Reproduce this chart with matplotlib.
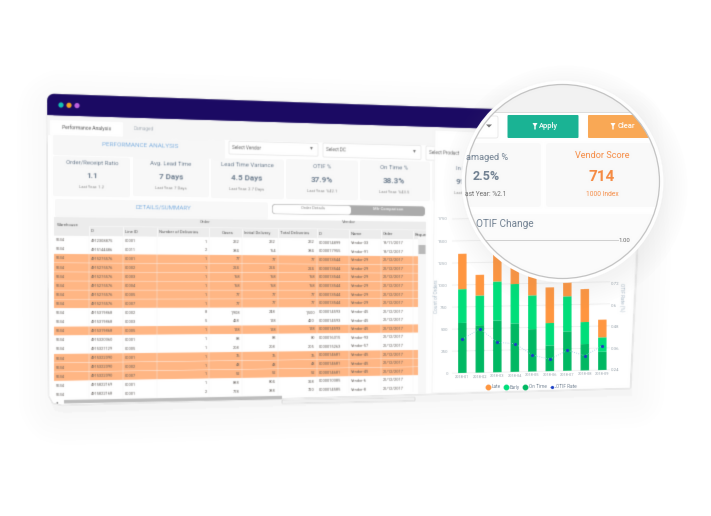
import numpy as np
import matplotlib
matplotlib.use("Agg")
import matplotlib.pyplot as plt
from matplotlib.lines import Line2D
from matplotlib.patches import Circle, Polygon, Rectangle, FancyBboxPatch
from matplotlib.transforms import Affine2D

plt.rcParams['font.family'] = ['Roboto', 'DejaVu Sans']

# chart values
months = ['2018-01', '2018-02', '2018-03', '2018-04', '2018-05', '2018-06', '2018-07', '2018-08', '2018-09']
on_time = [568, 538, 587, 550, 481, 292, 447, 299, 208]
early = [383, 337, 443, 447, 383, 254, 398, 250, 163]
late = [402, 235, 340, 300, 260, 405, 155, 375, 201]
otif_rate = [0.409, 0.466, 0.388, 0.379, 0.314, 0.288, 0.336, 0.304, 0.357]
count_ticks = [0, 250, 500, 750, 1000, 1250, 1500, 1750]
rate_ticks = [0.24, 0.36, 0.48, 0.6, 0.72]

# kpi cards
card_titles = ['Order/Receipt Ratio', 'Avg. Lead Time', 'Lead Time Variance', 'OTIF %', 'On Time %', 'In Full %']
card_values = ['1.1', '7 Days', '4.5 Days', '37.9%', '38.3%', '91.4%']
card_last = ['Last Year: 1.2', 'Last Year: 7 Days', 'Last Year: 2.7 Days', 'Last Year: %42.1', 'Last Year: %43.5', 'Last Year: %91']

# table
headers = ['ID', 'Line ID', 'Number of Deliveries', 'Cases', 'Initial Delivery', 'Total Deliveries', 'ID', 'Name', 'Order', 'Reque']
order_ids = ['4912308875', '4915144486', '4915275576', '4915275576', '4915275576', '4915275576', '4915275576', '4915275576',
             '4915319868', '4915319868', '4915319868', '4915320360', '4915321129', '4915322090', '4915322090', '4915322090',
             '4915822169', '4915822168']
line_ids = ['00001', '00011', '00001', '00002', '00003', '00004', '00005', '00007', '00002', '00003', '00005', '00001',
            '00005', '00001', '00002', '00007', '00001', '00001']
deliveries = [1, 2, 1, 1, 1, 1, 1, 1, 8, 5, 1, 1, 1, 1, 1, 1, 1, 2]
cases = ['252', '384', '77', '224', '168', '168', '77', '77', '1,908', '428', '128', '88', '208', '76', '43', '52', '888', '778']
initial = ['252', '164', '77', '224', '168', '168', '77', '77', '248', '128', '128', '88', '208', '76', '43', '52', '804', '388']
total = ['252', '384', '77', '224', '168', '168', '77', '77', '1,500', '420', '128', '80', '205', '76', '43', '52', '328', '720']
vendor_ids = ['0000014899', '0000017955', '0000013544', '0000013544', '0000013544', '0000013544', '0000013544', '0000013544',
              '0000014593', '0000014593', '0000014593', '0000016315', '0000015263', '0000014681', '0000014681', '0000014681',
              '0000010385', '0000014585']
vendor_names = ['Vendor-33', 'Vendor-91', 'Vendor-29', 'Vendor-29', 'Vendor-29', 'Vendor-29', 'Vendor-29', 'Vendor-29',
                'Vendor-45', 'Vendor-45', 'Vendor-45', 'Vendor-93', 'Vendor-57', 'Vendor-45', 'Vendor-45', 'Vendor-45',
                'Vendor-6', 'Vendor-8']
order_dates = ['19/11/2017', '19/12/2017'] + ['21/12/2017'] * 16
flagged = [2, 3, 4, 5, 6, 7, 10, 13, 14, 15]

ORANGE = '#ff9640'
GREEN = '#00de7a'
DARK_GREEN = '#00b862'
BLUE_TXT = '#7fb0e0'
GREY_TXT = '#6f7f90'


# the reference is a soft screenshot, so blur each layer a little
def soft(sigma):
    n = int(np.ceil(sigma * 3))
    k = np.exp(-0.5 * (np.arange(-n, n + 1) / sigma) ** 2)
    k = k / k.sum()

    def f(im, dpi):
        im = np.pad(im, ((n, n), (n, n), (0, 0)))
        im = np.apply_along_axis(lambda m: np.convolve(m, k, mode='same'), 0, im)
        im = np.apply_along_axis(lambda m: np.convolve(m, k, mode='same'), 1, im)
        return im, -n, -n
    return f


fig = plt.figure(figsize=(7.11, 5.16), dpi=100)
bg = fig.add_axes([0, 0, 1, 1], zorder=1)
bg.set_xlim(0, 711)
bg.set_ylim(516, 0)
bg.axis('off')
bg.set_agg_filter(soft(0.55))


# the page is tilted: rows run down to the right at the top, up at the bottom
def top(x):
    return 93.5 + 0.0345 * (x - 47)


def bot(x):
    return 405 - 0.02 * (x - 50)


def T(x, y):
    return (y - top(x)) / (bot(x) - top(x))


def Y(x, t):
    return top(x) + t * (bot(x) - top(x))


def rot(t):
    return -np.degrees(np.arctan(0.0345 + t * (-0.02 - 0.0345)))


def box(x0, y0, x1, y1, color, r=0, z=2, ec='none', lw=0):
    if r > 0:
        a = np.linspace(0, np.pi / 2, 6)
        pts = []
        for cx, cy, start in [(x1 - r, y0 + r, -np.pi / 2), (x1 - r, y1 - r, 0), (x0 + r, y1 - r, np.pi / 2), (x0 + r, y0 + r, np.pi)]:
            pts += [(cx + r * np.cos(start + k), cy + r * np.sin(start + k)) for k in a]
    else:
        pts = [(x0, y0), (x1, y0), (x1, y1), (x0, y1)]
    pts = [(x, Y(x, T(x0, y))) for x, y in pts]
    bg.add_patch(Polygon(pts, closed=True, fc=color, ec=ec, lw=lw, zorder=z))


def label(x, y, s, size=4, color='#666666', weight='normal', ha='center', z=5, **kw):
    bg.text(x, y, s, fontsize=size, color=color, fontweight=weight, ha=ha, va='center',
            rotation=rot(T(x, y)), rotation_mode='anchor', zorder=z, **kw)


# window with soft shadow
window = [(47, 104), (49, 98), (56, 94), (628, 113.5), (637, 250), (630, 388), (62, 405), (53, 403), (49, 396)]
shifted = [(x + 2, y + 8) for x, y in window]
for lw in np.arange(46, 2, -4):
    bg.add_patch(Polygon(shifted, closed=True, fc='#888888', ec='#888888', lw=lw, alpha=0.007, joinstyle='round', zorder=1))
bg.add_patch(Polygon(window, closed=True, fc='white', ec='#eeeeee', lw=0.4, zorder=1.5))

# title bar and tabs
box(47, 93.5, 625, 115, '#1b0a63', r=7, z=2)
box(47, 106, 625, 115, '#1b0a63', z=2)
for cx, cy, c in [(61, 105, '#14c4b4'), (69, 105.3, '#f5a623'), (77, 105.6, '#c060e0')]:
    bg.add_patch(Circle((cx, cy), 2.6, fc=c, ec='none', zorder=3))
box(47, 115, 625, 135, '#f6f6f6', z=1.8)
box(50, 120, 123, 135, 'white', r=1, z=2)
label(87, 128, 'Performance Analysis', size=3.6, color='#555555')
label(144, 129, 'Damaged', size=3.4, color='#aab2ba')

# filter row
box(53, 135, 225, 155, '#f7f7f7', r=2)
label(140, 145, 'PERFORMANCE ANALYSIS', size=4.6, color=BLUE_TXT)
for x0, y0, x1, y1, s in [(229, 141, 318, 154, 'Select Vendor'), (323, 143, 421, 157, 'Select DC'), (426, 146, 500, 160, 'Select Product')]:
    box(x0, y0, x1, y1, 'white', r=1, ec='#e3e3e3', lw=0.5)
    label(x0 + 3, (y0 + y1) / 2, s, size=3.3, ha='left', color='#666666')
    label(x1 - 7, (y0 + y1) / 2 + 0.3, '▾', size=4, color='#777777', family='DejaVu Sans')

# kpi cards
card_x0 = [53, 133, 211, 286, 360, 432]
card_x1 = [130, 209, 284, 358, 430, 505]
card_top = [156, 156, 158, 159, 160, 161]
centers = [92, 171, 247, 322, 394, 467]
for i in range(len(card_titles)):
    box(card_x0[i], card_top[i], card_x1[i], card_top[i] + 40, '#f8f8f8', r=2)
    dy = [0, 1, 2, 4, 5, 6][i]
    label(centers[i], 163 + dy, card_titles[i], size=4.3, color=GREY_TXT)
    label(centers[i], 176 + dy, card_values[i], size=5.8, color=GREY_TXT, weight='bold')
    label(centers[i], 187 + dy, card_last[i], size=3.0, color='#8a8a8a')

# details band
box(55, 199, 268, 217, '#f8f8f8', r=2)
label(163, 207, 'DETAILS/SUMMARY', size=4.4, color=BLUE_TXT)
box(272, 204, 425, 214, '#ababab', r=3)
box(272.6, 204.6, 351, 213.6, 'white', r=3)
label(313, 208.5, 'Order Details', size=3, color='#8a8a8a')
label(388, 209.5, 'Mfr Comparison', size=3, color='#eeeeee', weight='bold')

# table
col_x = [54, 89, 123, 157, 209, 242, 278, 317, 349, 381, 413, 418]
row_h = 9.1
row_top = 235.7
box(54, 217, 426, 236, '#ececec', z=2)
box(89, 226, 426, 226.5, 'white', z=2.5)
for x in col_x[1:-1]:
    bg.plot([x, x], [Y(x, T(54, 226.5)), Y(x, T(54, row_top))], color='white', lw=0.5, zorder=3)
label(57, 225, 'Warehouse', size=3.2, ha='left', color='#555555')
label(205, 222, 'Order', size=3.2, color='#666666')
label(349, 222, 'Vendor', size=3.2, color='#666666')
for i, h in enumerate(headers):
    x = col_x[i + 1] + 2 if i not in (3,) else 222
    label(x, Y(x, T(54, 231)), h, size=3.1, ha='left', color='#555555')

for i in range(len(order_ids)):
    y0 = row_top + i * row_h
    c = '#ffb684' if i in flagged else 'white'
    box(54, y0, 418, y0 + row_h - 0.4, c, z=2)
    cy = y0 + row_h / 2
    row_text = ['5534', order_ids[i], line_ids[i], str(deliveries[i]), cases[i], initial[i], total[i],
                vendor_ids[i], vendor_names[i], order_dates[i]]
    for j, s in enumerate(row_text):
        right = j in (3, 4, 5, 6)
        x = col_x[j + 1] - 2 if right else col_x[j] + 2
        label(x, Y(x, T(54, cy)), s, size=2.9, ha='right' if right else 'left', color='#5f5a56')

for x in col_x[1:-1]:
    bg.plot([x, x], [Y(x, T(54, row_top)), Y(x, T(54, 399))], color='#f4f4f4', lw=0.3, zorder=3)

# scrollbars
box(418, 237, 426, 394, '#f7f7f7', z=3)
box(418.5, 245, 425.5, 254, '#b9b9b9', z=3.5)
box(64, 400, 282, 403.5, '#bcbcbc', z=3)
box(282, 400, 415, 403.5, '#f0f0f0', z=3)
label(57, 402, '◂', size=3, color='#666666', family='DejaVu Sans')

# chart panel
bg.add_patch(Polygon([(435, 130), (636, 140), (636, 250), (630, 388), (432, 393)], closed=True, fc='white', ec='#f2f2f2', lw=0.5, zorder=2))
bg.text(436, 296, 'Count of Orders', fontsize=3.4, color='#a6b6c4', rotation=90, ha='center', va='center', zorder=5)
bg.text(622, 297, 'OTIF Rate (%)', fontsize=3.4, color='#a6b6c4', rotation=270, ha='center', va='center', zorder=5)

# stacked bars, axes placed in pixels then sheared to follow the page
ax_left, ax_right, ax_top, ax_base = 452, 610, 219, 373.2
ax = fig.add_axes([ax_left / 711, 1 - ax_base / 516, (ax_right - ax_left) / 711, (ax_base - ax_top) / 516], zorder=2)
ax.patch.set_alpha(0)
ax.set_agg_filter(soft(0.45))
x_pos = np.arange(len(months))
shear = Affine2D.from_values(1, 0.021, 0, 1, 0, -0.021 * ax_left)
tr = ax.transData + shear
ax.set_xlim(-0.59, 8.44)
ax.set_ylim(0, 1750)
ax.hlines(count_ticks, -0.59, 8.44, color='#ececec', lw=0.6, transform=tr, zorder=1, clip_on=False)
ax.bar(x_pos, on_time, width=0.49, color=DARK_GREEN, transform=tr, zorder=2, clip_on=False)
ax.bar(x_pos, early, width=0.49, bottom=on_time, color=GREEN, transform=tr, zorder=2, clip_on=False)
ax.bar(x_pos, late, width=0.49, bottom=np.array(on_time) + np.array(early), color=ORANGE, transform=tr, zorder=2, clip_on=False)
ax.set_xlim(-0.59, 8.44)
ax.set_ylim(0, 1750)
ax.set_yticks(count_ticks)
ax.set_yticklabels([str(v) for v in count_ticks], fontsize=3.2, color='#9aa5ae')
ax.set_xticks([])
ax.tick_params(axis='y', length=0, pad=3)
for sp in ax.spines.values():
    sp.set_visible(False)
for i, m in enumerate(months):
    ax.text(i, -45, m, fontsize=2.9, color='#8c98a3', ha='center', va='center', transform=tr, clip_on=False)

ax2 = ax.twinx()
ax2.patch.set_alpha(0)
ax2.set_zorder(3)
ax2.set_agg_filter(soft(0.4))
ax2.set_ylim(0.222, 1.079)
ax2.plot(x_pos, otif_rate, color='#9fc4e4', lw=0.6, ls=':', transform=ax2.transData + shear, zorder=4, clip_on=False)
ax2.plot(x_pos, otif_rate, ls='none', marker='o', ms=1.3, color='#1a3fc4', transform=ax2.transData + shear, zorder=5, clip_on=False)
ax2.set_xlim(-0.59, 8.44)
ax2.set_ylim(0.222, 1.079)
ax2.set_yticks(rate_ticks)
ax2.set_yticklabels(['0.24', '0.36', '0.48', '0.6', '0.72'], fontsize=3.2, color='#9aa5ae')
ax2.tick_params(axis='y', length=0, pad=0.5)
for sp in ax2.spines.values():
    sp.set_visible(False)

handles = [Line2D([], [], ls='none', marker='o', ms=3.2, color=ORANGE),
           Line2D([], [], ls='none', marker='o', ms=3.2, color=GREEN),
           Line2D([], [], ls='none', marker='o', ms=3.2, color=DARK_GREEN),
           Line2D([], [], ls=':', lw=0.6, marker='o', ms=1.3, color='#1a3fc4')]
leg = fig.legend(handles, ['Late', 'Early', 'On Time', 'OTIF Rate'], loc='center', bbox_to_anchor=(531 / 711, 1 - 387 / 516),
                 ncol=4, frameon=False, prop={'size': 3.4}, labelcolor='#6f7f90', handletextpad=0.2, columnspacing=0.7, handlelength=1.0)
leg.set_agg_filter(soft(0.4))

# magnifier on top of everything
lens = fig.add_axes([0, 0, 1, 1], zorder=10)
lens.set_xlim(0, 711)
lens.set_ylim(516, 0)
lens.axis('off')
lens.patch.set_alpha(0)
lens.set_agg_filter(soft(0.35))
cx, cy, rad = 562.5, 181.5, 97
for r in np.arange(122, 99, -2.5):
    lens.add_patch(Circle((cx + 3, cy + 6), r, fc='#777777', ec='none', alpha=0.012))
lens.add_patch(Circle((cx, cy), 101, fc='white', ec='none'))
clip = Circle((cx, cy), rad, transform=lens.transData)


def clipped(p):
    lens.add_patch(p)
    p.set_clip_path(clip)
    return p


def ltext(x, y, s, ha='center', **kw):
    return lens.text(x, y, s, ha=ha, va='center', **kw)


clipped(Rectangle((460, 80), 205, 32, fc='#f2f2f2', ec='none'))
clipped(Rectangle((460, 112), 205, 0.6, fc='#dddddd', ec='none'))
clipped(FancyBboxPatch((440, 116), 58, 22, boxstyle='round,pad=0,rounding_size=2', fc='white', ec='#e6e6e6', lw=0.6))
clipped(Polygon([(486, 124.5), (492, 124.5), (489, 127.5)], closed=True, fc='#777777', ec='none'))
clipped(FancyBboxPatch((507.5, 115), 71, 23, boxstyle='round,pad=0,rounding_size=1', fc='#1ab394', ec='none'))
clipped(FancyBboxPatch((588, 115), 80, 23, boxstyle='round,pad=0,rounding_size=1', fc='#f9a855', ec='none'))
for fx in (535, 613):
    clipped(Polygon([(fx - 2.5, 123), (fx + 2.5, 123), (fx + 0.7, 126), (fx + 0.7, 129.5), (fx - 0.7, 129.5), (fx - 0.7, 126)],
                    closed=True, fc='white', ec='none'))
ltext(548.5, 126, 'Apply', fontsize=5.4, color='white', fontweight='medium')
ltext(626, 126, 'Clear', fontsize=5.4, color='white', fontweight='medium')

clipped(FancyBboxPatch((440, 143), 101, 64, boxstyle='round,pad=0,rounding_size=3', fc='#f9f9f9', ec='none'))
clipped(FancyBboxPatch((546, 143), 130, 64, boxstyle='round,pad=0,rounding_size=3', fc='#f9f9f9', ec='none'))
clipped(Rectangle((440, 214), 240, 70, fc='#fbfbfb', ec='none'))
# agg ignores clip paths on text, so only the letters inside the lens are written
ltext(466, 157, 'amaged %', ha='left', fontsize=6.6, color=GREY_TXT)
ltext(486, 177, '2.5%', fontsize=9, color=GREY_TXT, fontweight='bold')
ltext(465, 195, 'ast Year: %2.1', ha='left', fontsize=4.8, color='#6b6b6b')
ltext(602, 156, 'Vendor Score', fontsize=6.6, color='#f58a42')
ltext(602, 177, '714', fontsize=11, color='#f58a42', fontweight='bold')
ltext(602, 195, '1000 Index', fontsize=4.8, color='#f58a42')
ltext(504.5, 224, 'OTIF Change', fontsize=7.2, color=GREY_TXT)
clipped(Rectangle((470, 239.5), 149, 1, fc='#cfcfcf', ec='none'))
ltext(624.5, 240, '1.00', fontsize=4.3, color='#666666')
lens.add_patch(Circle((cx, cy), rad, fc='none', ec='#c2c2c2', lw=0.9))

fig.savefig('out.png', dpi=100)
